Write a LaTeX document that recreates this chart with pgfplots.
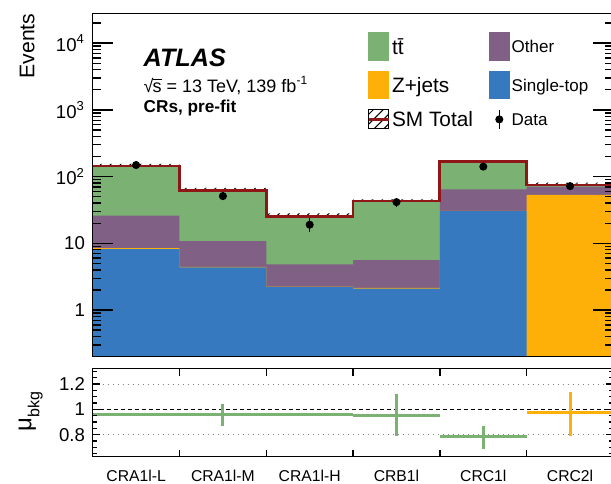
\documentclass[border=0pt]{standalone}
\usepackage{pgfplots}
\pgfplotsset{compat=1.18}
\usepgfplotslibrary{fillbetween}
\usetikzlibrary{patterns,patterns.meta}
\usepackage{fontspec}
\setmainfont{Liberation Sans}

\definecolor{ttgreen}{RGB}{123,178,116}
\definecolor{othpurple}{RGB}{128,96,132}
\definecolor{zorange}{RGB}{254,176,8}
\definecolor{stblue}{RGB}{54,121,191}
\definecolor{smred}{RGB}{142,22,22}

\newcommand{\fs}[1]{\fontsize{#1}{#1}\selectfont}
% s with a bar over it, for the sqrt(s) label
\newcommand{\ovs}{\leavevmode\setbox0\hbox{s}\rlap{\rule[0.7em]{\wd0}{0.35pt}}s}

\tikzset{hatch/.style={pattern={Lines[angle=45, distance=3.5pt, line width=0.5pt]}}}

\pgfplotsset{
  atlas/.style={
    scale only axis, width=260.4pt,
    xmin=0, xmax=6,
    tick align=inside,
    axis on top,
    axis line style={line width=0.6pt},
    tick style={draw=black, line width=0.7pt},
    /pgf/number format/assume math mode=true,
    yticklabel style={font=\fs{9.3}, inner sep=0pt, xshift=-3.7pt},
  },
  boxleg/.style={legend image code/.code={\fill[#1] (0pt,-6.9pt) rectangle (10pt,6.9pt);}},
  mubar/.style={mark=none, draw=none,
    error bars/.cd, x dir=both, x explicit, y dir=both, y explicit, error mark=none,
    error bar style={line width=1.5pt, draw=#1}},
}

\begin{document}
\begin{tikzpicture}

% ---------------- top panel: stacked backgrounds
\begin{axis}[atlas, name=top, at={(0,0)}, anchor=north west, height=171.7pt,
  ymode=log, ymin=0.2, ymax=28000,
  xtick=\empty, minor xtick={1,2,3,4,5},
  major tick length=10pt, minor tick length=4pt,
  ytick={1,10,100,1000,10000},
  yticklabels={1,10,10\textsuperscript{2},10\textsuperscript{3},10\textsuperscript{4}},
  minor ytick={0.3,0.4,0.5,0.6,0.7,0.8,0.9,2,3,4,5,6,7,8,9,20,30,40,50,60,70,80,90,
    200,300,400,500,600,700,800,900,2000,3000,4000,5000,6000,7000,8000,9000,20000},
  legend columns=2, legend cell align=left,
  legend style={at={(0.5273,0.9447)}, anchor=north west, draw=none, fill=none,
    inner sep=0pt, outer sep=0pt, nodes={inner sep=0pt, text depth=0pt},
    column sep=1pt, row sep=5pt},
]

% cumulative stack tops: ttbar (= total), other, z+jets, single-top
\addplot[const plot, fill=ttgreen, draw=none, forget plot] coordinates {
  (0,0.01) (0,144) (1,61.5) (2,25) (3,43) (4,168) (5,75) (6,75) (6,0.01)};
\addplot[const plot, fill=othpurple, draw=none, forget plot] coordinates {
  (0,0.01) (0,26) (1,10.8) (2,4.85) (3,5.6) (4,64.5) (5,71) (6,71) (6,0.01)};
\addplot[const plot, fill=zorange, draw=none, forget plot] coordinates {
  (0,0.01) (0,8.45) (1,4.43) (2,2.24) (3,2.15) (4,30.7) (5,53) (6,53) (6,0.01)};
\addplot[const plot, fill=stblue, draw=none, forget plot] coordinates {
  (0,0.01) (0,8.2) (1,4.37) (2,2.22) (3,2.09) (4,30.5) (5,0.05) (6,0.05) (6,0.01)};

% SM total uncertainty band
\addplot[name path=smup, draw=none, const plot, forget plot] coordinates {
  (0,155) (1,67.6) (2,28) (3,45.6) (4,174.7) (5,81) (6,81)};
\addplot[name path=smlo, draw=none, const plot, forget plot] coordinates {
  (0,133) (1,55.4) (2,22) (3,40.4) (4,161.3) (5,69) (6,69)};
\addplot[hatch, draw=none, forget plot] fill between[of=smup and smlo];

% SM total
\addplot[smred, line width=1.4pt, const plot, forget plot] coordinates {
  (0,144) (1,61.5) (2,25) (3,43) (4,168) (5,75) (6,75)};

% data
\addplot[black, only marks, mark=*, mark size=1.8pt, forget plot,
  error bars/.cd, y dir=both, y explicit, error mark=none,
  error bar style={line width=0.8pt}] coordinates {
  (0.5,149) +- (0,12)
  (1.5,51) +- (0,7)
  (2.5,19) += (0,5) -= (0,4.2)
  (3.5,41.5) +- (0,6.5)
  (4.5,141) +- (0,12)
  (5.5,72) +- (0,8.5)};

% legend
\addlegendimage{boxleg=ttgreen}
\addlegendentry{\fs{10.4}\makebox[47.4pt][l]{t\={t}}}
\addlegendimage{boxleg=othpurple}
\addlegendentry{\fs{8.5}Other}
\addlegendimage{boxleg=zorange}
\addlegendentry{\fs{10.4}\makebox[47.4pt][l]{Z+jets}}
\addlegendimage{boxleg=stblue}
\addlegendentry{\fs{8.5}Single-top}
\addlegendimage{legend image code/.code={
  \fill[hatch] (0pt,-4.75pt) rectangle (10pt,4.75pt);
  \draw[smred, line width=1.4pt] (0pt,0pt) -- (10pt,0pt);}}
\addlegendentry{\fs{10.4}\makebox[47.4pt][l]{SM Total}}
\addlegendimage{legend image code/.code={
  \draw[line width=0.8pt] (5pt,-4.75pt) -- (5pt,4.75pt);
  \fill (5pt,0pt) circle (1.8pt);}}
\addlegendentry{\fs{8.5}Data}
\end{axis}

% ---------------- ratio panel: background normalisations
% labels sit at the bin ticks 1..6 and are shifted back by half a bin
\begin{axis}[atlas, at={(0,-177.5pt)}, anchor=north west, height=44.2pt,
  ymin=0.625, ymax=1.325,
  xtick={1,2,3,4,5,6},
  xticklabels={CRA1l-L,CRA1l-M,CRA1l-H,CRB1l,CRC1l,CRC2l},
  major tick length=3.6pt, minor tick length=2.3pt,
  ytick={0.8,1,1.2},
  minor ytick={0.65,0.7,0.75,0.85,0.9,0.95,1.05,1.1,1.15,1.25,1.3},
  xticklabel style={font=\fs{7.85}, inner sep=0pt, yshift=-6.65pt, xshift=-21.7pt},
]
\addplot[gray, dotted, line width=0.5pt] coordinates {(0,0.8) (6,0.8)};
\addplot[gray, dotted, line width=0.5pt] coordinates {(0,1.2) (6,1.2)};
\addplot[black, line width=0.7pt, dash pattern=on 2pt off 1.5pt] coordinates {(0,1) (6,1)};

\addplot[mubar=ttgreen] coordinates {
  (0.5,0.96) +- (0.5,0)
  (1.5,0.96) += (0.5,0.08) -= (0.5,0.09)
  (2.5,0.96) +- (0.5,0)
  (3.5,0.955) += (0.5,0.17) -= (0.5,0.166)
  (4.5,0.784) += (0.5,0.084) -= (0.5,0.10)};
\addplot[mubar=zorange] coordinates {
  (5.5,0.973) += (0.5,0.166) -= (0.5,0.184)};
\end{axis}

% ---------------- labels
\node[rotate=90, anchor=south east, inner sep=0pt] at (-28.85pt,0pt) {\fs{10.6}Events};
\node[rotate=90, anchor=south, inner sep=0pt] at (-24.85pt,-199.2pt)
  {\fs{12}μ\raisebox{-4pt}{\fs{8}bkg}};
\node[anchor=base west, inner sep=0pt] at (25.3pt,-26.35pt) {\fs{12.6}\bfseries\itshape ATLAS};
\node[anchor=base west, inner sep=0pt] at (25.3pt,-39.35pt)
  {\fs{9}√\kern-0.5pt\ovs{} = 13 TeV, 139 fb\textsuperscript{-1}};
\node[anchor=base west, inner sep=0pt] at (25.3pt,-49.35pt) {\fs{8.6}\bfseries CRs, pre-fit};

\pgfresetboundingbox
\useasboundingbox (-46.35pt,6.65pt) rectangle (259.15pt,-234.85pt);
\end{tikzpicture}
\end{document}
